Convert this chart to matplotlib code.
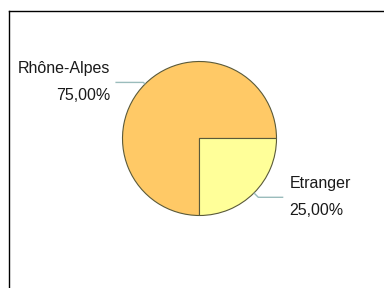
import numpy as np
import matplotlib
matplotlib.use("Agg")
import matplotlib.pyplot as plt
from matplotlib.lines import Line2D

labels = ["Rhône-Alpes", "Etranger"]
values = [75.0, 25.0]
pct_labels = ["75,00%", "25,00%"]
colors = ["#FFC966", "#FFFF99"]

W, H = 384, 288
fig = plt.figure(figsize=(W / 100, H / 100), dpi=100)
ax = fig.add_axes([0, 0, 1, 1])

cx, cy, r = 199.5, H - 138.5, 77
wedges, _ = ax.pie(values, colors=colors, startangle=0, counterclock=True,
                   center=(cx, cy), radius=r, frame=True,
                   wedgeprops=dict(edgecolor="#5a5a3a", linewidth=0.8))
ax.set_xlim(0, W)
ax.set_ylim(0, H)
ax.set_aspect("equal")
ax.axis("off")

line_col = "#9ABCBC"
font = dict(family=["Liberation Sans", "DejaVu Sans"], fontsize=11.5, color="#1a1a1a")
for w, name, pct in zip(wedges, labels, pct_labels):
    ang = np.deg2rad((w.theta1 + w.theta2) / 2)
    ex, ey = cx + r * np.cos(ang), cy + r * np.sin(ang)
    kr = 1.08 if np.cos(ang) > 0 else 1.03
    kx, ky = cx + kr * r * np.cos(ang), cy + kr * r * np.sin(ang)
    if np.cos(ang) < 0:
        hx = kx - 28
        tx, ha = hx - 5, "right"
    else:
        hx = kx + 25
        tx, ha = hx + 6, "left"
    ax.plot([ex, kx, hx], [ey, ky, ky], color=line_col, lw=1.0, solid_capstyle="butt")
    ax.text(tx, ky + 13.5, name, ha=ha, va="center", **font)
    ax.text(tx, ky - 13.5, pct, ha=ha, va="center", **font)

# border
fig.add_artist(Line2D([8.5 / W, 8.5 / W], [0, 1 - 10.5 / H], color="black", lw=1.0, transform=fig.transFigure))
fig.add_artist(Line2D([8.5 / W, 1], [1 - 10.5 / H, 1 - 10.5 / H], color="black", lw=1.0, transform=fig.transFigure))

fig.savefig("out.png", dpi=100, facecolor="white")
